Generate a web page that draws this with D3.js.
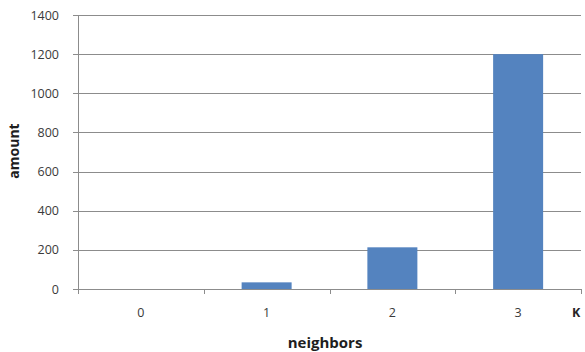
<!DOCTYPE html>
<html><head><meta charset="utf-8">
<script src="https://cdn.jsdelivr.net/npm/d3@7"></script>
<style>
html,body{margin:0;padding:0;background:#fff;}
svg{display:block;font-family:"Open Sans","Liberation Sans",sans-serif;}
</style></head>
<body><svg id="c" width="585" height="352"></svg>
<script>
// neighbor counts and how many items have each
const categories = ["0", "1", "2", "3"];
const amounts = [0, 34, 213, 1200];
const yTicks = [0, 200, 400, 600, 800, 1000, 1200, 1400];

const svg = d3.select("#c");
const plotLeft = 78, plotRight = 581, plotTop = 15, plotBottom = 289;

const xBand = d3.scaleBand().domain(categories).range([plotLeft, plotRight]);
const y = d3.scaleLinear().domain([0, 1400]).range([plotBottom, plotTop]);

// horizontal gridlines with short outside ticks
svg.append("g").selectAll("line").data(yTicks).join("line")
  .attr("x1", plotLeft - 5).attr("x2", plotRight)
  .attr("y1", d => Math.round(y(d)) + 0.5).attr("y2", d => Math.round(y(d)) + 0.5)
  .attr("stroke", "#8c8c8c").attr("stroke-width", 1);

// value axis labels
svg.append("g").selectAll("text").data(yTicks).join("text")
  .attr("x", 59).attr("y", d => y(d)).attr("dy", "0.36em")
  .attr("text-anchor", "end").attr("font-size", 12.5).attr("fill", "#3a3a3a")
  .text(d => d);

// vertical axis line
svg.append("line").attr("x1", plotLeft + 0.5).attr("x2", plotLeft + 0.5)
  .attr("y1", plotTop).attr("y2", plotBottom + 5).attr("stroke", "#8c8c8c");

// bars
svg.append("g").selectAll("rect").data(categories).join("rect")
  .attr("x", d => xBand(d) + xBand.bandwidth() / 2 - 25)
  .attr("width", 50)
  .attr("y", (d, i) => y(amounts[i]))
  .attr("height", (d, i) => plotBottom - y(amounts[i]))
  .attr("fill", "#5483bf");

// category ticks at band edges
const edges = categories.map(c => xBand(c)).concat([plotRight]);
svg.append("g").selectAll("line").data(edges).join("line")
  .attr("x1", d => Math.round(d) + 0.5).attr("x2", d => Math.round(d) + 0.5)
  .attr("y1", plotBottom).attr("y2", plotBottom + 5).attr("stroke", "#8c8c8c");

// category labels
svg.append("g").selectAll("text").data(categories).join("text")
  .attr("x", d => xBand(d) + xBand.bandwidth() / 2).attr("y", 317)
  .attr("text-anchor", "middle").attr("font-size", 12.5).attr("fill", "#3a3a3a")
  .text(d => d);

// trailing label at the right edge
svg.append("text").attr("x", 572).attr("y", 317).attr("font-size", 12.5)
  .attr("font-weight", "bold").attr("fill", "#262626").text("K");

// axis titles
svg.append("text").attr("x", 325).attr("y", 348).attr("text-anchor", "middle")
  .attr("font-size", 15).attr("font-weight", "bold").attr("fill", "#1e1e1e").text("neighbors");
svg.append("text").attr("transform", "translate(19,151) rotate(-90)")
  .attr("text-anchor", "middle").attr("font-size", 14).attr("font-weight", "bold")
  .attr("fill", "#1e1e1e").text("amount");
</script></body></html>
